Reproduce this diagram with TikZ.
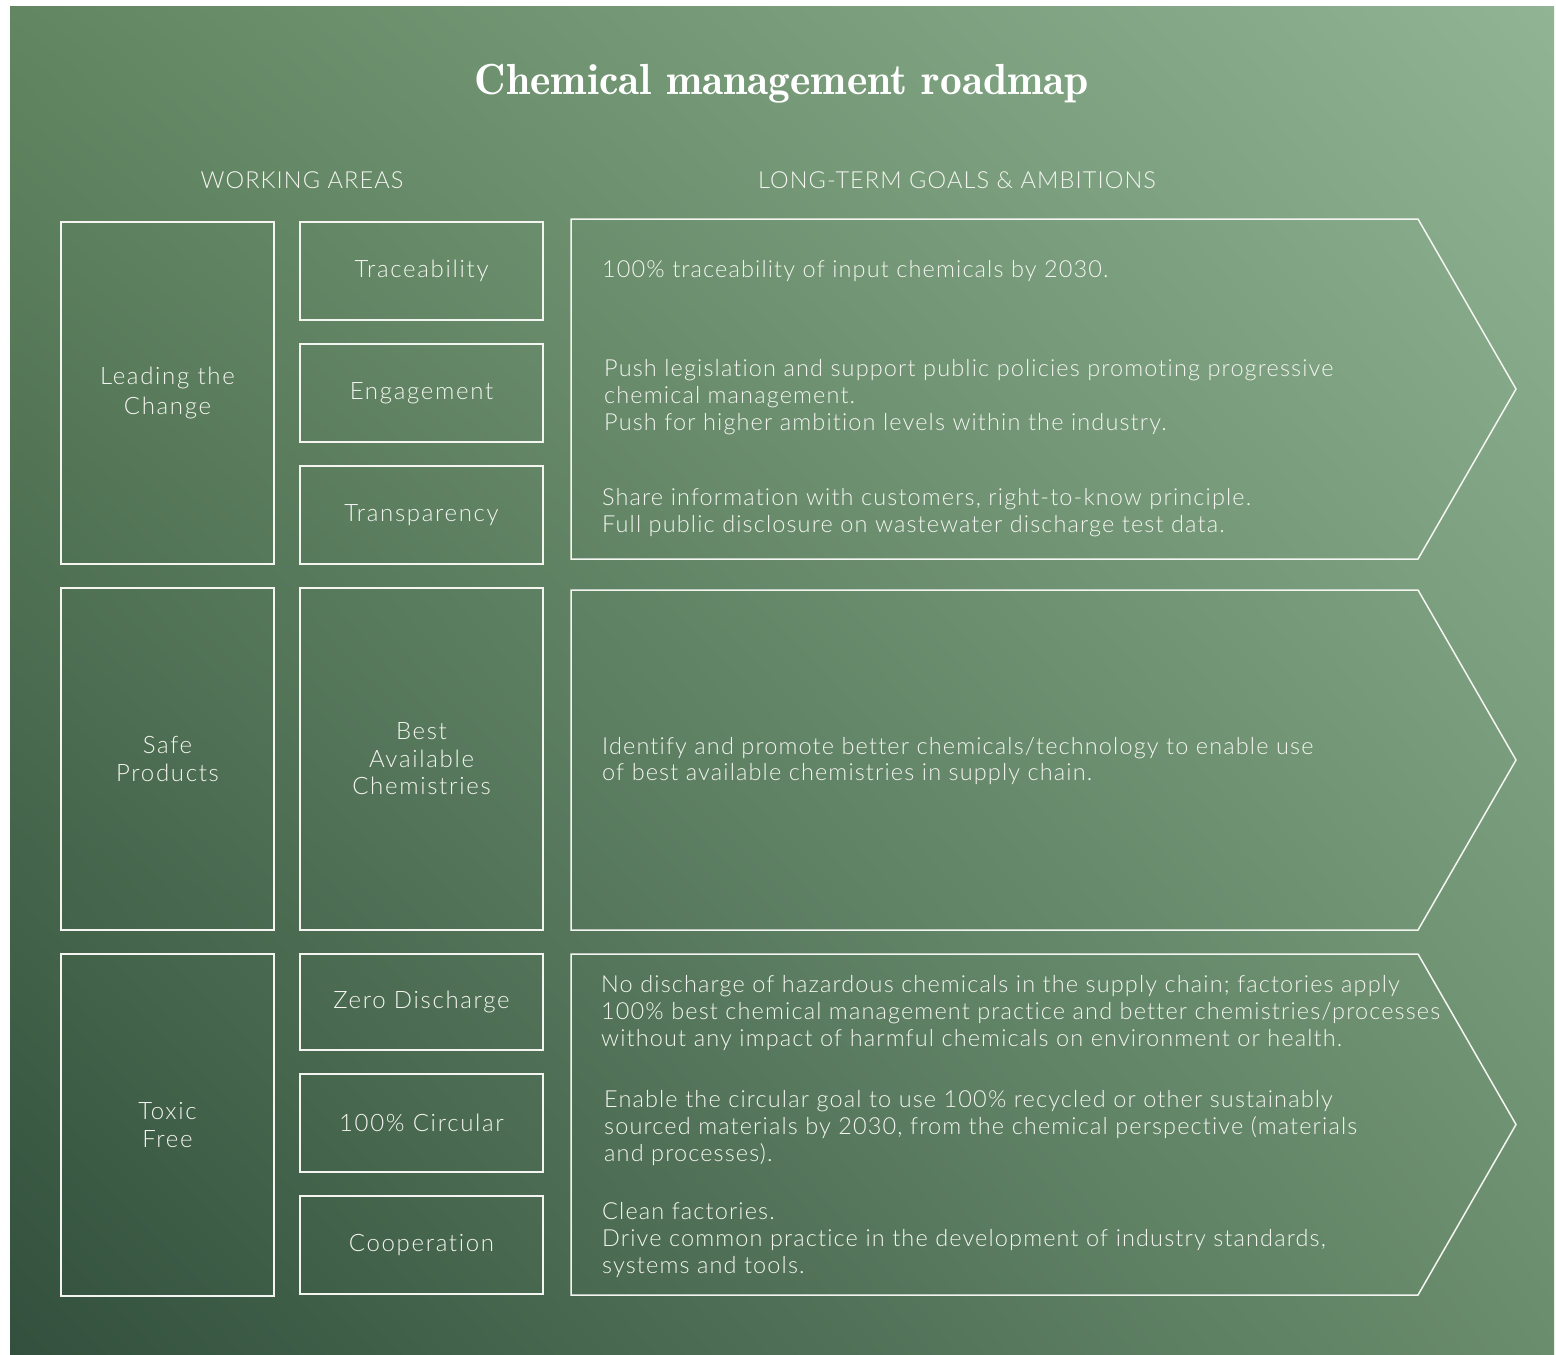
\documentclass[tikz,border=0pt]{standalone}
\usepackage{fontspec}
\newfontfamily\bodyfont{Lato Light}[LetterSpace=4.8, Ligatures=NoCommon]
\newfontfamily\labelfont{Lato Light}[LetterSpace=7.0, Ligatures=NoCommon]
\newfontfamily\titlefont{lmromandemi10-regular.otf}
\usetikzlibrary{positioning, shadings}
\definecolor{bgTopLeft}{HTML}{628661}
\definecolor{bgTopRight}{HTML}{90B494}
\definecolor{bgBottomLeft}{HTML}{32503D}
\definecolor{bgBottomRight}{HTML}{6A8D6D}
\definecolor{lineWhite}{HTML}{F4F5F0}
\tikzset{
    areabox/.style={draw=lineWhite, line width=1.5pt, inner sep=0pt, outer sep=0pt, align=center, text=lineWhite, font=\labelfont\fontsize{24}{27.5}\selectfont},
    goalline/.style={draw=lineWhite, line width=1.5pt, line join=miter},
    goaltext/.style={anchor=west, align=left, inner sep=0pt, text=lineWhite, font=\bodyfont\fontsize{23.5}{26.8}\selectfont},
    headtext/.style={text=lineWhite, inner sep=0pt, font=\bodyfont\fontsize{23.5}{26}\selectfont}
}
\newcommand{\DrawGoal}[3]{
    % Arrow outline: top edge, tip, bottom edge
    \draw[goalline] (571,#2) coordinate (#1top) -- (1418,#2) -- (1516,{(#2+#3)/2}) coordinate (#1tip) -- (1418,#3) -- (571,#3) -- cycle;
}

\begin{document}
\begin{tikzpicture}[x=1pt, y=-1pt]
        \useasboundingbox (0,0) rectangle (1556,1355);
        % Background
        \fill[white] (0,0) rectangle (1556,1355);
        \shade[upper left=bgTopLeft, upper right=bgTopRight, lower left=bgBottomLeft, lower right=bgBottomRight] (10,6) rectangle (1554,1355);

        % Title and column heads
        \node[text=white, inner sep=0pt, font=\titlefont\fontsize{43.5}{48}\selectfont] (title) at (782,84) {Chemical management roadmap};
        \node[headtext] (areashead) at (302,180) {WORKING AREAS};
        \node[headtext] (goalshead) at (957,180) {LONG-TERM GOALS \& AMBITIONS};

        % Working areas (left column)
        \node[areabox, minimum width=213pt, minimum height=342pt, font=\labelfont\fontsize{24}{30.5}\selectfont] (lead) at (167.5,393) {Leading the\\Change};
        \node[areabox, minimum width=213pt, minimum height=342pt] (safe) at (167.5,759) {Safe\\Products};
        \node[areabox, minimum width=213pt, minimum height=342pt] (toxic) at (167.5,1125) {Toxic\\Free};

        % Working areas (middle column)
        \node[areabox, minimum width=243pt, minimum height=98pt] (trace) at (421.5,271) {Traceability};
        \node[areabox, minimum width=243pt, minimum height=98pt] (engage) at (421.5,393) {Engagement};
        \node[areabox, minimum width=243pt, minimum height=98pt] (transp) at (421.5,515) {Transparency};
        \node[areabox, minimum width=243pt, minimum height=342pt] (best) at (421.5,759) {Best\\Available\\Chemistries};
        \node[areabox, minimum width=243pt, minimum height=96pt] (zero) at (421.5,1002) {Zero Discharge};
        \node[areabox, minimum width=243pt, minimum height=98pt] (circ) at (421.5,1123) {100\% Circular};
        \node[areabox, minimum width=243pt, minimum height=98pt] (coop) at (421.5,1245) {Cooperation};

        % Goal arrows
        \DrawGoal{lead}{219}{559}
        \DrawGoal{safe}{590}{930}
        \DrawGoal{toxic}{954}{1295}

        % Goals: leading the change
        \node[goaltext] (goaltrace) at (602,271) {100\% traceability of input chemicals by 2030.};
        \node[goaltext] (goalengage) at (604,397) {Push legislation and support public policies promoting progressive\\chemical management.\\Push for higher ambition levels within the industry.};
        \node[goaltext] (goaltransp) at (602,513) {Share information with customers, right-to-know principle.\\Full public disclosure on wastewater discharge test data.};

        % Goals: safe products
        \node[goaltext] (goalbest) at (602,761) {Identify and promote better chemicals/technology to enable use\\of best available chemistries in supply chain.};

        % Goals: toxic free
        \node[goaltext] (goalzero) at (601,1013) {No discharge of hazardous chemicals in the supply chain; factories apply\\100\% best chemical management practice and better chemistries/processes\\without any impact of harmful chemicals on environment or health.};
        \node[goaltext] (goalcirc) at (604,1128) {Enable the circular goal to use 100\% recycled or other sustainably\\sourced materials by 2030, from the chemical perspective (materials\\and processes).};
        \node[goaltext] (goalcoop) at (602,1240) {Clean factories.\\Drive common practice in the development of industry standards,\\systems and tools.};
    \end{tikzpicture}
\end{document}
